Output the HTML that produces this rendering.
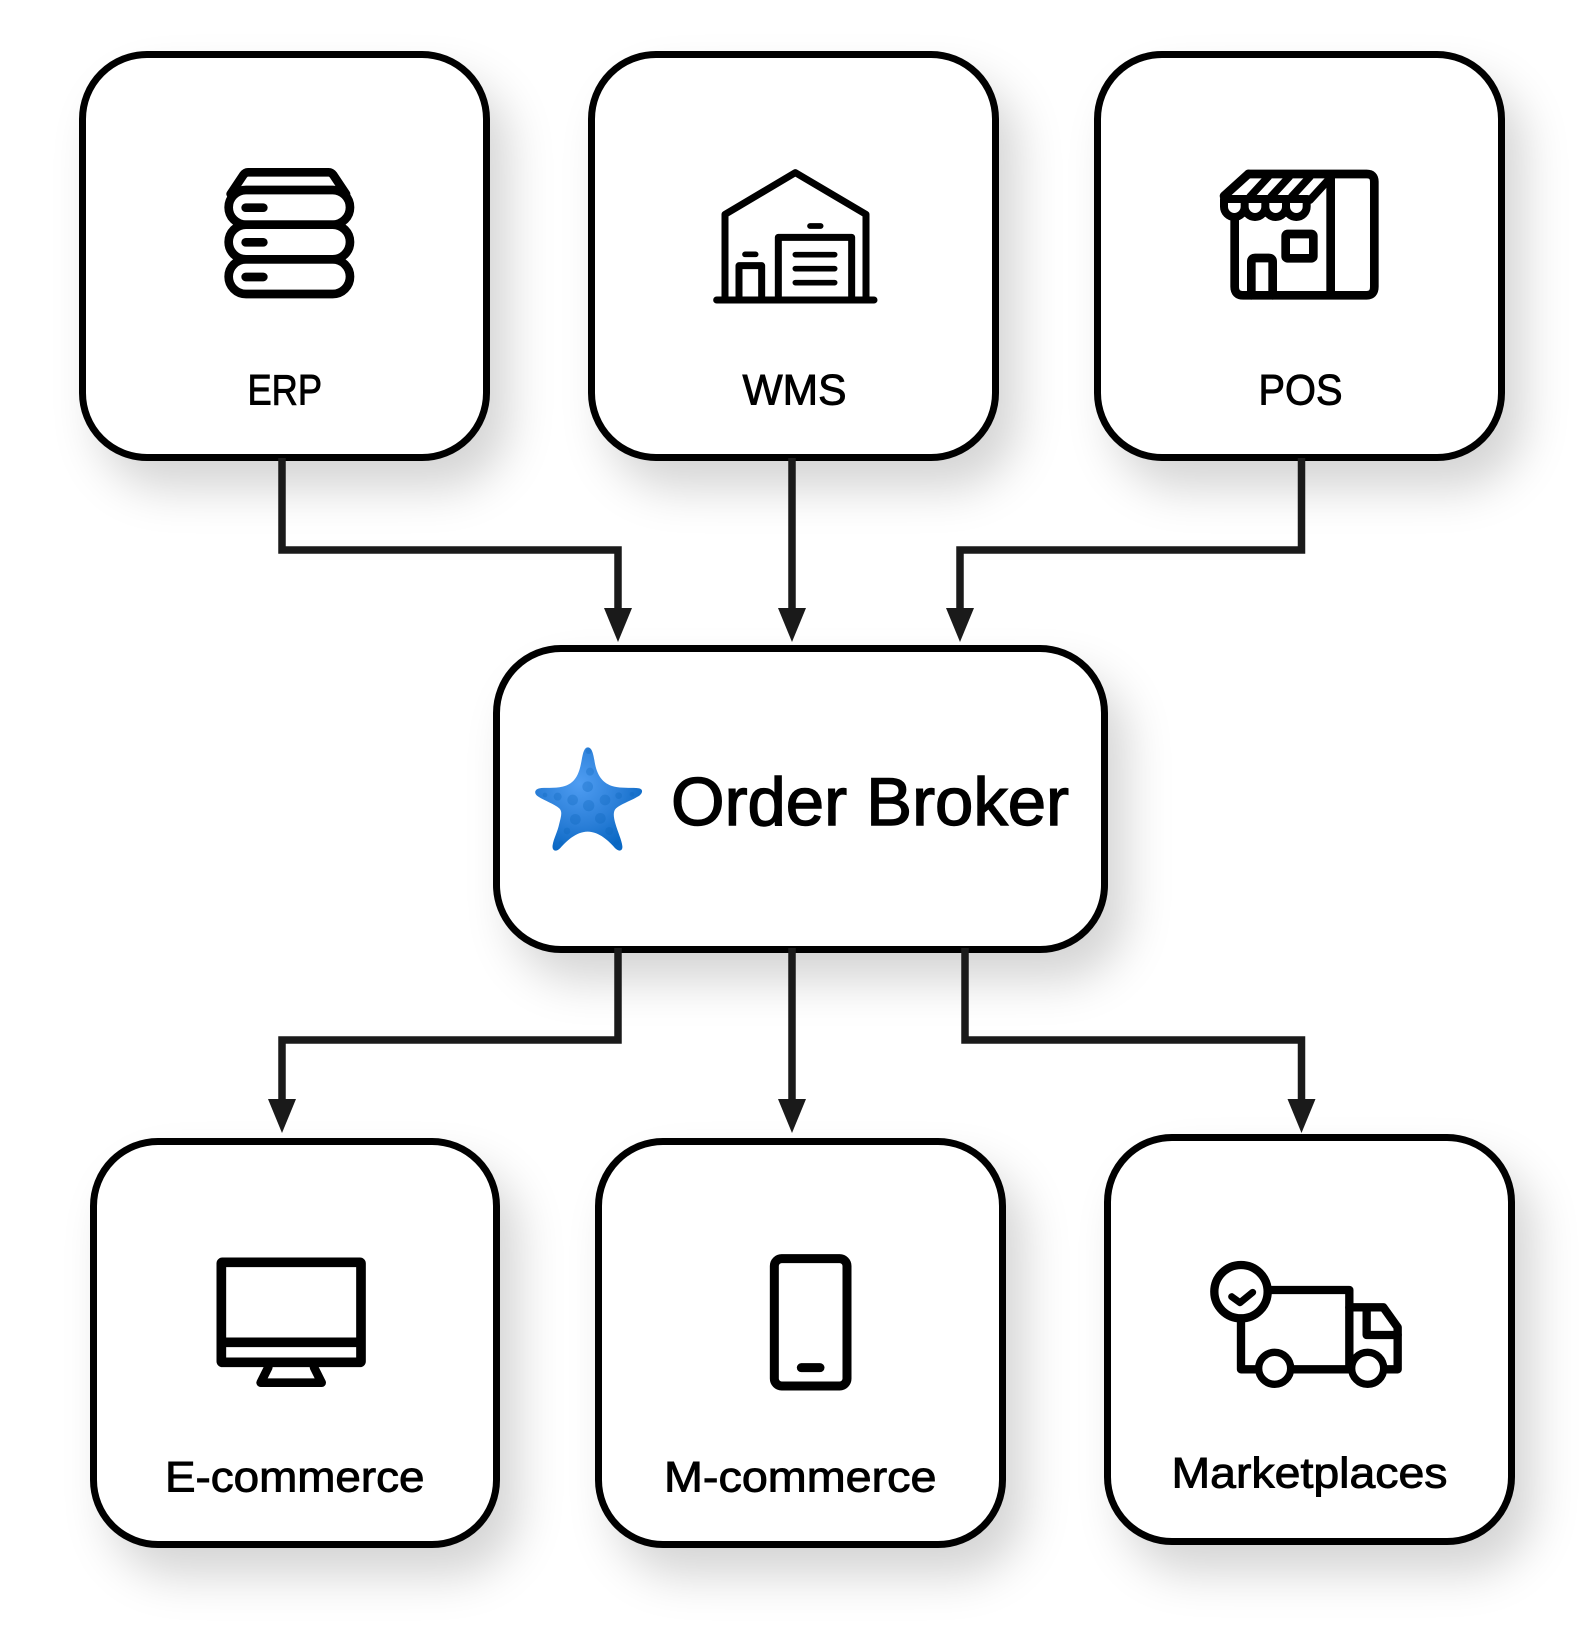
<!DOCTYPE html>
<html><head><meta charset="utf-8"><title>Order Broker diagram</title>
<style>
html,body{margin:0;padding:0;background:#fff;width:1584px;height:1630px;overflow:hidden}
.b{position:absolute;box-sizing:border-box;background:#fff;border:7px solid #000;border-radius:68px;box-shadow:19px 28px 46px rgba(0,0,0,.17)}
svg{position:absolute;left:0;top:0}
text{font-family:"Liberation Sans",sans-serif;fill:#000;stroke:#000;stroke-width:.9}
.i{fill:none;stroke:#000;stroke-linecap:round;stroke-linejoin:round}
</style></head><body>
<div class="b" style="left:79px;top:51px;width:411px;height:410px"></div>
<div class="b" style="left:588px;top:51px;width:411px;height:410px"></div>
<div class="b" style="left:1094px;top:51px;width:411px;height:410px"></div>
<div class="b" style="left:493px;top:645px;width:615px;height:308px"></div>
<div class="b" style="left:90px;top:1138px;width:410px;height:410px"></div>
<div class="b" style="left:595px;top:1138px;width:411px;height:410px"></div>
<div class="b" style="left:1104px;top:1134px;width:411px;height:411px"></div>
<svg width="1584" height="1630" viewBox="0 0 1584 1630" xmlns="http://www.w3.org/2000/svg">
<defs><radialGradient id="g" gradientUnits="userSpaceOnUse" cx="175" cy="160" r="210"><stop offset="0" stop-color="#4f9df2"/><stop offset=".6" stop-color="#2b7fd8"/><stop offset="1" stop-color="#0a68c4"/></radialGradient></defs>
<g fill="none" stroke="#1a1a1a" stroke-width="7.5">
<path d="M282 458V550H618V612"/><path d="M792 458V612"/><path d="M1301.5 458V550H960V612"/>
<path d="M618 948V1040H282V1103"/><path d="M792 948V1103"/><path d="M965 948V1040H1301.5V1103"/>
</g>
<g fill="#1a1a1a">
<path d="M604 608H632L618 642Z"/><path d="M778 608H806L792 642Z"/><path d="M946 608H974L960 642Z"/>
<path d="M268 1099H296L282 1133Z"/><path d="M778 1099H806L792 1133Z"/><path d="M1287.500 1099H1315.500L1301.500 1133Z"/>
</g>
<!-- ERP icon -->
<g class="i" transform="translate(60 30) scale(.33333)" stroke-width="26">
<path d="M512 492L550 435Q556 427 564 427H806Q814 427 820 435L858 492"/>
<rect x="506" y="480" width="364" height="104" rx="52"/>
<rect x="506" y="584" width="364" height="104" rx="52"/>
<rect x="506" y="688" width="364" height="104" rx="52"/>
<path d="M557 533H610M557 637H610M557 741H610"/>
</g>
<!-- WMS icon -->
<g class="i" transform="translate(580 30) scale(.33333)" stroke-width="21">
<path d="M435 805V553L646 428L858 553V805"/>
<path d="M410 810H882"/>
<path d="M595 805V622H815V805"/>
<path d="M477 805V707H545V805"/>
<path stroke-width="17" d="M646 674H764M646 716H764M646 758H764M690 588H722M495 673H527"/>
</g>
<!-- POS icon -->
<g class="i" transform="translate(1080 30) scale(.33333)" stroke-width="26">
<path d="M505 432H860Q883 432 883 455V770Q883 796 860 796H490Q464 796 464 770V570"/>
<path d="M752 440V790"/>
<path d="M432 498L505 432"/>
<path stroke-width="24" d="M432 507H682M432 507v23a31 31 0 0 0 62 0a31 31 0 0 0 62 0a31 31 0 0 0 62 0a31 31 0 0 0 62 0v-23M494 507v23M556 507v23M618 507v23"/>
<path stroke-width="23" d="M565 440L510 500M628 440L573 500M690 440L635 500M745 450L690 510"/>
<rect x="617" y="612" width="83" height="73" rx="6"/>
<path d="M514 796V695Q514 684 525 684H566Q578 684 578 695V796"/>
</g>
<!-- Starfish -->
<g transform="translate(521 730) scale(.33333)">
<path fill="url(#g)" d="M200 52C212 52 216 68 220 90C226 130 240 160 280 170C305 176 340 172 355 175C368 178 365 192 350 200C330 212 300 222 285 235C275 245 278 262 283 280C290 305 302 330 304 348C306 365 292 366 280 352C265 335 235 305 200 305C165 305 135 335 118 354C105 368 92 362 95 345C98 325 110 305 115 280C120 260 125 245 115 235C100 222 70 212 52 200C38 192 40 178 55 175C70 172 100 176 125 170C165 160 175 130 182 90C186 68 190 52 200 52Z"/>
<g fill="#0b62ba" fill-opacity=".3">
<circle cx="203" cy="63" r="9"/><circle cx="207" cy="125" r="12"/><circle cx="200" cy="170" r="16"/><circle cx="155" cy="210" r="16"/><circle cx="110" cy="200" r="12"/><circle cx="72" cy="195" r="7"/><circle cx="203" cy="227" r="17"/><circle cx="252" cy="210" r="16"/><circle cx="293" cy="197" r="10"/><circle cx="333" cy="193" r="7"/><circle cx="163" cy="268" r="16"/><circle cx="238" cy="265" r="16"/><circle cx="265" cy="303" r="12"/><circle cx="287" cy="338" r="8"/><circle cx="138" cy="303" r="10"/><circle cx="120" cy="338" r="7"/>
</g>
</g>
<!-- Monitor -->
<g class="i" transform="translate(70 1120) scale(.33333)" stroke-width="29">
<rect x="454" y="427" width="419" height="300" rx="3"/>
<path stroke-linecap="butt" d="M454 667H873"/>
<path stroke-width="26" d="M595 742L572 788H755L732 742"/>
</g>
<!-- Phone -->
<g class="i" transform="translate(580 1120) scale(.33333)" stroke-width="27">
<rect x="583" y="416" width="218" height="382" rx="22"/>
<path d="M664 743H720"/>
</g>
<!-- Truck -->
<g class="i" transform="translate(1090 1120) scale(.33333)" stroke-width="25">
<path d="M535 510H778V748"/>
<path d="M453 600V748H500"/>
<path d="M605 748H790"/>
<path d="M778 562H880L923 622V748H885"/>
<path d="M830 565V645H923"/>
<circle cx="453" cy="515" r="80" fill="#fff"/>
<path stroke-width="21" d="M425 530L450 548L488 517"/>
<circle cx="554" cy="745" r="48" fill="#fff" stroke-width="22"/>
<circle cx="833" cy="745" r="48" fill="#fff" stroke-width="22"/>
</g>
<g font-size="43">
<text x="247.500" y="404.500" textLength="74.500" lengthAdjust="spacingAndGlyphs">ERP</text>
<text x="742.500" y="404.500" textLength="104" lengthAdjust="spacingAndGlyphs">WMS</text>
<text x="1258.500" y="404.500" textLength="84" lengthAdjust="spacingAndGlyphs">POS</text>
<text x="165" y="1491.500" textLength="259.500" lengthAdjust="spacingAndGlyphs" font-size="43">E-commerce</text>
<text x="664" y="1491.500" textLength="272.500" lengthAdjust="spacingAndGlyphs" font-size="43">M-commerce</text>
<text x="1171.500" y="1487.500" textLength="276" lengthAdjust="spacingAndGlyphs" font-size="43">Marketplaces</text>
</g>
<text x="671" y="825" font-size="68" textLength="398" lengthAdjust="spacingAndGlyphs" style="stroke-width:1.4">Order Broker</text>
</svg>
</body></html>
